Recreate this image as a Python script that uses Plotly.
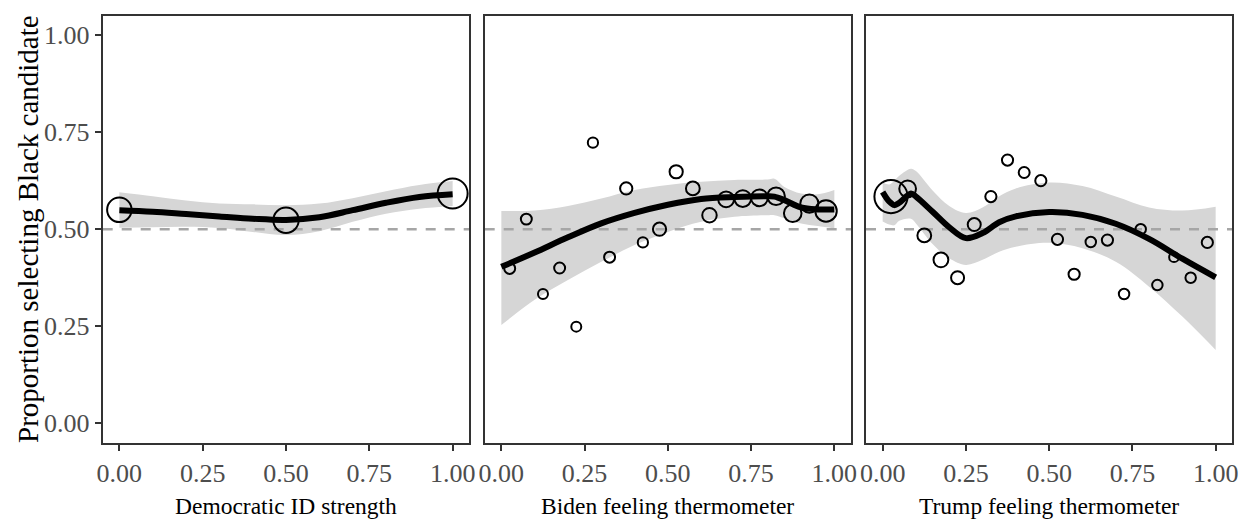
import plotly.graph_objects as go

# ---------------- data ----------------
# Panel 1: Democratic ID strength
dem_x = [0.0, 0.5, 1.0]
dem_prop = [0.550, 0.523, 0.592]
dem_n = [600, 640, 900]
dem_fit_x = [0.0, 0.1, 0.2, 0.3, 0.4, 0.5, 0.6, 0.7, 0.8, 0.9, 1.0]
dem_fit = [0.549, 0.545, 0.539, 0.533, 0.527, 0.524, 0.531, 0.549, 0.568, 0.583, 0.590]
dem_lo = [0.504, 0.505, 0.506, 0.503, 0.493, 0.485, 0.495, 0.519, 0.540, 0.553, 0.560]
dem_hi = [0.595, 0.585, 0.574, 0.566, 0.564, 0.562, 0.566, 0.580, 0.598, 0.614, 0.624]

# Panels 2 and 3: binned thermometer scores
therm_bins = [0.025, 0.075, 0.125, 0.175, 0.225, 0.275, 0.325, 0.375, 0.425, 0.475,
              0.525, 0.575, 0.625, 0.675, 0.725, 0.775, 0.825, 0.875, 0.925, 0.975]

biden_prop = [0.399, 0.526, 0.333, 0.400, 0.249, 0.723, 0.428, 0.605, 0.466, 0.500,
              0.648, 0.605, 0.536, 0.577, 0.579, 0.581, 0.585, 0.541, 0.566, 0.547]
biden_n = [120, 120, 100, 120, 100, 105, 120, 150, 105, 175,
           175, 190, 210, 250, 280, 280, 310, 310, 330, 460]
biden_fit_x = [0.0, 0.1, 0.2, 0.3, 0.4, 0.5, 0.6, 0.7, 0.8, 0.82, 0.85, 0.9, 0.95, 1.0]
biden_fit = [0.403, 0.440, 0.479, 0.515, 0.542, 0.563, 0.578, 0.583, 0.585, 0.584,
             0.575, 0.556, 0.551, 0.551]
biden_lo = [0.253, 0.318, 0.369, 0.416, 0.459, 0.493, 0.519, 0.532, 0.536, 0.536,
            0.528, 0.515, 0.508, 0.502]
biden_hi = [0.547, 0.548, 0.560, 0.579, 0.601, 0.614, 0.622, 0.627, 0.628, 0.630,
            0.609, 0.592, 0.590, 0.601]

trump_prop = [0.584, 0.604, 0.484, 0.421, 0.375, 0.512, 0.584, 0.678, 0.646, 0.625,
              0.474, 0.384, 0.467, 0.472, 0.333, 0.500, 0.356, 0.428, 0.375, 0.466]
trump_n = [1100, 280, 190, 220, 170, 170, 125, 125, 120, 125,
           125, 125, 110, 125, 110, 110, 110, 95, 110, 125]
trump_fit_x = [0.0, 0.02, 0.035, 0.05, 0.085, 0.1, 0.15, 0.2, 0.25, 0.3, 0.35, 0.4,
               0.5, 0.6, 0.7, 0.8, 0.9, 1.0]
trump_fit = [0.596, 0.571, 0.562, 0.568, 0.592, 0.584, 0.545, 0.505, 0.477, 0.490,
             0.518, 0.533, 0.544, 0.537, 0.514, 0.475, 0.424, 0.376]
trump_lo = [0.520, 0.512, 0.510, 0.522, 0.527, 0.515, 0.462, 0.425, 0.408, 0.421,
            0.442, 0.455, 0.465, 0.451, 0.416, 0.352, 0.275, 0.189]
trump_hi = [0.620, 0.615, 0.625, 0.638, 0.656, 0.650, 0.600, 0.560, 0.542, 0.556,
            0.585, 0.605, 0.620, 0.611, 0.584, 0.556, 0.548, 0.558]

x_titles = ["Democratic ID strength", "Biden feeling thermometer", "Trump feeling thermometer"]
y_title = "Proportion selecting Black candidate"
tick_vals = [0.0, 0.25, 0.5, 0.75, 1.0]
tick_text = ["0.00", "0.25", "0.50", "0.75", "1.00"]
reference_level = 0.5
axis_range = [-0.05, 1.05]

# ---------------- figure ----------------
W, H = 1242, 521
FONT = "Liberation Serif"
BAND = "#D6D6D6"
FRAME = "#333333"
TICK_SIZE = 26

panels = [
    (dem_x, dem_prop, dem_n, dem_fit_x, dem_fit, dem_lo, dem_hi),
    (therm_bins, biden_prop, biden_n, biden_fit_x, biden_fit, biden_lo, biden_hi),
    (therm_bins, trump_prop, trump_n, trump_fit_x, trump_fit, trump_lo, trump_hi),
]
px_left = [102.7, 484.7, 866.0]
px_right = [469.3, 851.0, 1232.3]
y_dom = [1 - 442.7 / H, 1 - 15.7 / H]

fig = go.Figure()
for i, (px_, py_, pn, fx, fy, flo, fhi) in enumerate(panels):
    xa = "x" if i == 0 else f"x{i+1}"
    ya = "y" if i == 0 else f"y{i+1}"
    fig.add_trace(go.Scatter(x=fx, y=flo, mode="lines", line=dict(width=0, shape="spline"),
                             hoverinfo="skip", showlegend=False, xaxis=xa, yaxis=ya))
    fig.add_trace(go.Scatter(x=fx, y=fhi, mode="lines", line=dict(width=0, shape="spline"),
                             fill="tonexty", fillcolor=BAND, hoverinfo="skip",
                             showlegend=False, xaxis=xa, yaxis=ya))
    fig.add_trace(go.Scatter(x=axis_range, y=[reference_level, reference_level], mode="lines",
                             line=dict(color="#A6A6A6", width=2.4, dash="10px,9px"),
                             hoverinfo="skip", showlegend=False, xaxis=xa, yaxis=ya))
    fig.add_trace(go.Scatter(x=px_, y=py_, mode="markers",
                             marker=dict(size=pn, sizemode="area", sizeref=2, opacity=1,
                                         symbol="circle-open", color="black",
                                         line=dict(color="black", width=2)),
                             showlegend=False, xaxis=xa, yaxis=ya))
    fig.add_trace(go.Scatter(x=fx, y=fy, mode="lines",
                             line=dict(color="black", width=6, shape="spline"),
                             showlegend=False, xaxis=xa, yaxis=ya))

layout = dict(
    width=W, height=H,
    margin=dict(l=0, r=0, t=0, b=0, autoexpand=False),
    paper_bgcolor="white", plot_bgcolor="white",
    font=dict(family=FONT, color="black", size=TICK_SIZE),
    showlegend=False,
)
for i in range(3):
    xk = "xaxis" if i == 0 else f"xaxis{i+1}"
    yk = "yaxis" if i == 0 else f"yaxis{i+1}"
    ya = "y" if i == 0 else f"y{i+1}"
    xa = "x" if i == 0 else f"x{i+1}"
    layout[xk] = dict(
        domain=[px_left[i] / W, px_right[i] / W], anchor=ya, range=axis_range,
        tickvals=tick_vals, ticktext=tick_text, ticks="outside", ticklen=6, tickwidth=1.8,
        tickcolor=FRAME, showline=True, linecolor=FRAME, linewidth=1.8, mirror=True,
        showgrid=False, zeroline=False, automargin=False,
    )
    layout[yk] = dict(
        domain=y_dom, anchor=xa, range=axis_range,
        tickvals=tick_vals, ticktext=tick_text,
        ticks="outside" if i == 0 else "", ticklen=6, tickwidth=1.8, tickcolor=FRAME,
        showticklabels=(i == 0),
        showline=True, linecolor=FRAME, linewidth=1.8, mirror=True,
        showgrid=False, zeroline=False, automargin=False,
    )
fig.update_layout(**layout)
fig.update_xaxes(tickfont=dict(family=FONT, size=TICK_SIZE, color="#4D4D4D"))
fig.update_yaxes(tickfont=dict(family=FONT, size=TICK_SIZE, color="#4D4D4D"))

annotations = []
for i, t in enumerate(x_titles):
    annotations.append(dict(text=t, xref="paper", yref="paper",
                            x=(px_left[i] + px_right[i]) / 2 / W, y=1 - 506 / H,
                            xanchor="center", yanchor="middle", showarrow=False,
                            font=dict(family=FONT, size=23.5, color="black")))
annotations.append(dict(text=y_title, xref="paper", yref="paper",
                        x=28 / W, y=1 - 229 / H, textangle=-90,
                        xanchor="center", yanchor="middle", showarrow=False,
                        font=dict(family=FONT, size=29, color="black")))
fig.update_layout(annotations=annotations)

fig.write_html("out.html")
